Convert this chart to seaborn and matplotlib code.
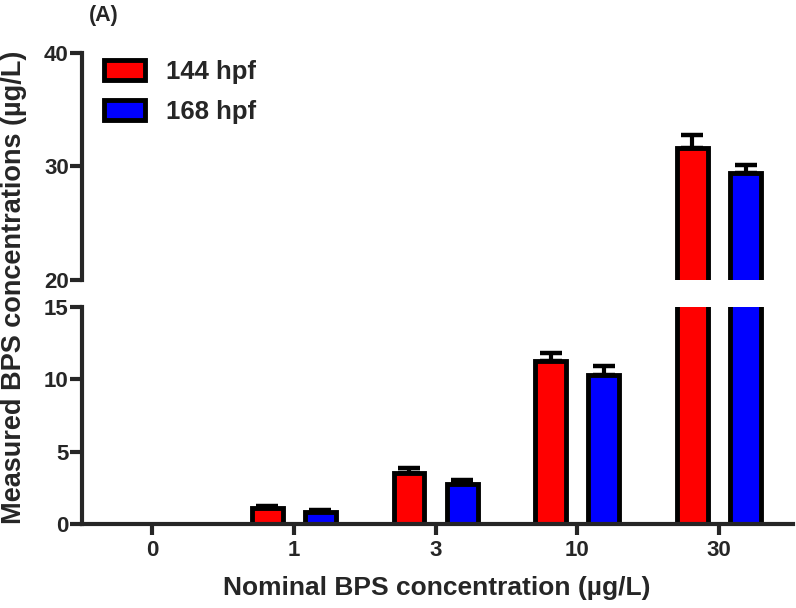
import matplotlib
matplotlib.use("Agg")
import matplotlib.pyplot as plt
import seaborn as sns
import pandas as pd
import numpy as np
from matplotlib.patches import Patch

# ---- data ----
concentrations = ["0", "1", "3", "10", "30"]
groups = ["144 hpf", "168 hpf"]
mean_144 = [0.0, 1.1, 3.55, 11.3, 31.6]
sd_144 = [0.0, 0.15, 0.3, 0.5, 1.2]
mean_168 = [0.0, 0.85, 2.75, 10.3, 29.4]
sd_168 = [0.0, 0.12, 0.3, 0.65, 0.75]
colors = ["#FF0000", "#0000FF"]

df = pd.DataFrame({
    "conc": concentrations * 2,
    "group": [groups[0]] * 5 + [groups[1]] * 5,
    "value": mean_144 + mean_168,
    "sd": sd_144 + sd_168,
})

sns.set_style("ticks")
plt.rcParams["font.family"] = ["Liberation Sans", "DejaVu Sans"]
plt.rcParams["font.weight"] = "bold"
plt.rcParams["axes.labelweight"] = "bold"

fig = plt.figure(figsize=(7.96, 6.08), dpi=100)
W, H = 796, 608
left, right = 82 / W, 793 / W
ax_top = fig.add_axes([left, 1 - 280 / H, right - left, (280 - 53) / H])
ax_bot = fig.add_axes([left, 1 - 524 / H, right - left, (524 - 307) / H])

lw = 3.5
for ax in (ax_top, ax_bot):
    sns.barplot(data=df, x="conc", y="value", hue="group", order=concentrations,
                hue_order=groups, palette=colors, errorbar=None, width=0.75,
                gap=0.42, edgecolor="black", linewidth=lw, saturation=1,
                legend=False, ax=ax)
    # error bars (upward only) at bar centres from the library's patches
    for patch in ax.patches:
        h = patch.get_height()
        if not np.isfinite(h) or h <= 0:
            continue
        xc = patch.get_x() + patch.get_width() / 2
        row = df[np.isclose(df["value"], h)].iloc[0]
        ax.errorbar([xc], [h], yerr=[[0], [row["sd"]]], fmt="none",
                    ecolor="black", elinewidth=3, capsize=8, capthick=3.2,
                    zorder=0.5)
    ax.set_xlim(-0.494, 4.522)
    ax.set_xlabel("")
    ax.set_ylabel("")
    for s in ("top", "right"):
        ax.spines[s].set_visible(False)
    ax.spines["left"].set_linewidth(3)
    ax.spines["bottom"].set_linewidth(3)
    ax.tick_params(axis="y", width=3, length=8.5, labelsize=16, pad=1)
    ax.tick_params(axis="x", width=3, length=8, labelsize=16, pad=3.5)

ax_top.set_ylim(20, 40)
ax_top.set_yticks([20, 30, 40])
ax_top.spines["bottom"].set_visible(False)
ax_top.tick_params(axis="x", bottom=False, labelbottom=False)

ax_bot.set_ylim(0, 15)
ax_bot.set_yticks([0, 5, 10, 15])

for ax in (ax_top, ax_bot):
    for t in ax.get_xticklabels() + ax.get_yticklabels():
        t.set_fontweight("bold")

handles = [Patch(facecolor=c, edgecolor="black", linewidth=lw) for c in colors]
ax_top.legend(handles, groups, loc="upper left", bbox_to_anchor=(104 / W, 1 - 60 / H),
              bbox_transform=fig.transFigure, frameon=False,
              handlelength=1.6, handleheight=0.85, labelspacing=0.6,
              handletextpad=0.8, borderpad=0, borderaxespad=0,
              prop={"weight": "bold", "size": 18.5})

fig.text(104 / W, 1 - 15 / H, "(A)", ha="center", va="center", fontsize=15.5,
         fontweight="bold")
fig.text(14 / W, 1 - 287 / H, "Measured BPS concentrations (\u00b5g/L)", rotation=90,
         ha="center", va="center", fontsize=19.5, fontweight="bold")
fig.text(437 / W, 1 - 588 / H, "Nominal BPS concentration (\u00b5g/L)", ha="center",
         va="center", fontsize=19, fontweight="bold")

fig.savefig("out.png", dpi=100)
